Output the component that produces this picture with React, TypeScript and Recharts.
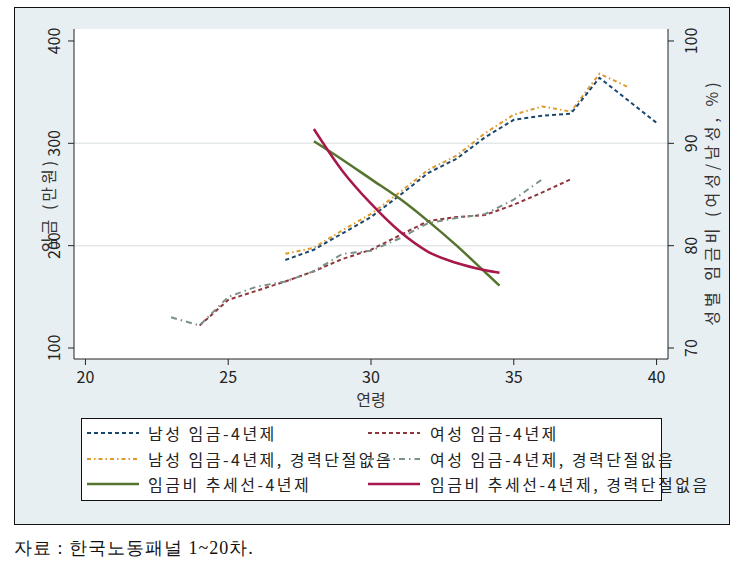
import { CartesianGrid, Line, LineChart, ReferenceLine, XAxis, YAxis } from "recharts";

// 연령별 임금 (만원)
const male4Ages = [27, 28, 29, 30, 31, 32, 33, 34, 35, 36, 37, 38, 39, 40];
const male4Wage = [186, 196, 212, 228, 249, 271, 285, 306, 323, 327, 329, 364, 342, 320];

const female4Ages = [24, 25, 26, 27, 28, 29, 30, 31, 32, 33, 34, 35, 36, 37];
const female4Wage = [122, 147, 156, 165, 175, 187, 196, 210, 224, 228, 230, 240, 252, 265];

const maleNbAges = [27, 28, 29, 30, 31, 32, 33, 34, 35, 36, 37, 38, 39];
const maleNbWage = [192, 198, 215, 231, 252, 274, 288, 310, 328, 336, 331, 368, 355];

const femaleNbAges = [23, 24, 25, 26, 27, 28, 29, 30, 31, 32, 33, 34, 35, 36];
const femaleNbWage = [130, 122, 150, 160, 165, 175, 192, 195, 207, 222, 227, 231, 245, 265];

// 성별 임금비 추세선 (%)
const trendAges = [28, 29, 30, 31, 32, 33, 34, 34.5];
const trend4 = [90.2, 88.4, 86.5, 84.6, 82.4, 80.0, 77.4, 76.1];
const trendNb = [91.4, 87.3, 84.1, 81.4, 79.4, 78.3, 77.6, 77.35];

const xTicks = [20, 25, 30, 35, 40];
const wageTicks = [100, 200, 300, 400];
const ratioTicks = [70, 80, 90, 100];

const toRows = (xs: number[], ys: number[]) => xs.map((age, i) => ({ age, v: ys[i] }));

const NAVY = "#1a476f";
const MAROON = "#90353b";
const ORANGE = "#dc9a2c";
const TEAL = "#7b9089";
const GREEN = "#55752f";
const CRANBERRY = "#a8174b";

const FONT = "'Noto Sans CJK KR', 'Noto Sans', sans-serif";

const legendItems = [
  { label: "남성 임금-4년제", color: NAVY, dash: "4 3", w: 2 },
  { label: "여성 임금-4년제", color: MAROON, dash: "4 3", w: 2 },
  { label: "남성 임금-4년제, 경력단절없음", color: ORANGE, dash: "4 3 1.5 3", w: 2 },
  { label: "여성 임금-4년제, 경력단절없음", color: TEAL, dash: "6 4 1.5 4", w: 2 },
  { label: "임금비 추세선-4년제", color: GREEN, dash: undefined, w: 2.5 },
  { label: "임금비 추세선-4년제, 경력단절없음", color: CRANBERRY, dash: undefined, w: 2.5 },
];

function LeftTick({ x, y, payload }: any) {
  const cx = x - 13;
  return (
    <text x={cx} y={y} transform={`rotate(-90 ${cx} ${y})`} textAnchor="middle" dominantBaseline="central"
      fontSize={16} fill="#222" fontFamily={FONT}>
      {payload.value}
    </text>
  );
}

function RightTick({ x, y, payload }: any) {
  const cx = x + 14;
  return (
    <text x={cx} y={y} transform={`rotate(-90 ${cx} ${y})`} textAnchor="middle" dominantBaseline="central"
      fontSize={16} fill="#222" fontFamily={FONT}>
      {payload.value}
    </text>
  );
}

function AxisTitle({ viewBox, value, dx, dy, spacing }: any) {
  const cx = viewBox.x + dx;
  const cy = viewBox.y + viewBox.height / 2 + dy;
  return (
    <text x={cx} y={cy} transform={`rotate(-90 ${cx} ${cy})`} textAnchor="middle" dominantBaseline="central"
      fontSize={16} fill="#333" fontFamily={FONT} letterSpacing={spacing}>
      {value}
    </text>
  );
}

export default function App() {
  return (
    <div style={{ position: "absolute", left: 0, top: 0, width: 746, height: 576, background: "#fff", fontFamily: FONT }}>
      <div
        style={{
          position: "absolute", left: 14, top: 7, width: 716, height: 518, boxSizing: "border-box",
          border: "1.5px solid #111", background: "#e8eff2",
        }}
      />
      <div style={{ position: "absolute", left: 0, top: 0 }}>
        <LineChart width={746} height={576} margin={{ top: 29, right: 18, bottom: 170, left: 14 }}>
          <CartesianGrid horizontal={false} vertical={false} fill="#fff" />
          <XAxis
            dataKey="age" type="number" domain={[19.6, 40.4]} ticks={xTicks} height={47}
            tick={{ fontSize: 16, fill: "#222", fontFamily: FONT }} tickMargin={7} tickSize={6}
            stroke="#222" allowDataOverflow
            label={{ value: "연령", position: "insideBottom", offset: 0, fontSize: 16, fill: "#333", fontFamily: FONT }}
          />
          <YAxis
            domain={[89.25, 411.7]} ticks={wageTicks} width={60} tick={<LeftTick />} tickSize={6}
            stroke="#222" allowDataOverflow
            label={{ content: (p: any) => <AxisTitle {...p} value="임금 (만원)" dx={34} dy={11} spacing={3} /> }}
          />
          <YAxis
            yAxisId="r" orientation="right" domain={[68.925, 101.17]} ticks={ratioTicks} width={60}
            tick={<RightTick />} tickSize={6} stroke="#222" allowDataOverflow
            label={{ content: (p: any) => <AxisTitle {...p} value="성별 임금비 (여성/남성, %)" dx={43} dy={8} spacing={4} /> }}
          />
          <ReferenceLine y={200} stroke="#e3e8ea" strokeWidth={1.5} />
          <ReferenceLine y={300} stroke="#e3e8ea" strokeWidth={1.5} />
          <Line data={toRows(female4Ages, female4Wage)} dataKey="v" type="linear" stroke={MAROON}
            strokeWidth={2} strokeDasharray="4 3" dot={false} isAnimationActive={false} />
          <Line data={toRows(femaleNbAges, femaleNbWage)} dataKey="v" type="linear" stroke={TEAL}
            strokeWidth={2} strokeDasharray="6 4 1.5 4" dot={false} isAnimationActive={false} />
          <Line data={toRows(maleNbAges, maleNbWage)} dataKey="v" type="linear" stroke={ORANGE}
            strokeWidth={2} strokeDasharray="4 3 1.5 3" dot={false} isAnimationActive={false} />
          <Line data={toRows(male4Ages, male4Wage)} dataKey="v" type="linear" stroke={NAVY}
            strokeWidth={2} strokeDasharray="4 3" dot={false} isAnimationActive={false} />
          <Line yAxisId="r" data={toRows(trendAges, trend4)} dataKey="v" type="monotone" stroke={GREEN}
            strokeWidth={2.5} dot={false} isAnimationActive={false} />
          <Line yAxisId="r" data={toRows(trendAges, trendNb)} dataKey="v" type="monotone" stroke={CRANBERRY}
            strokeWidth={2.5} dot={false} isAnimationActive={false} />
        </LineChart>
      </div>

      {/* legend */}
      <div
        style={{
          position: "absolute", left: 81, top: 418, width: 581, height: 83, boxSizing: "border-box",
          border: "1px solid #111", background: "#fff",
        }}
      />
      {legendItems.map((it, i) => {
        const col = i % 2;
        const row = Math.floor(i / 2);
        const left = col === 0 ? 87 : 368;
        const top = 423 + row * 25.5;
        return (
          <div key={it.label} style={{ position: "absolute", left, top, height: 20, display: "flex", alignItems: "center", whiteSpace: "nowrap" }}>
            <svg width={52} height={20}>
              <line x1={0} y1={10} x2={52} y2={10} stroke={it.color} strokeWidth={it.w} strokeDasharray={it.dash} />
            </svg>
            <span style={{ marginLeft: col === 0 ? 9 : 10, fontSize: 16, letterSpacing: 2.5, color: "#222" }}>{it.label}</span>
          </div>
        );
      })}

      <div style={{ position: "absolute", left: 14, top: 536, fontSize: 18, letterSpacing: 1, color: "#111", fontFamily: "serif", whiteSpace: "nowrap" }}>
        자료 : 한국노동패널 1~20차.
      </div>
    </div>
  );
}
